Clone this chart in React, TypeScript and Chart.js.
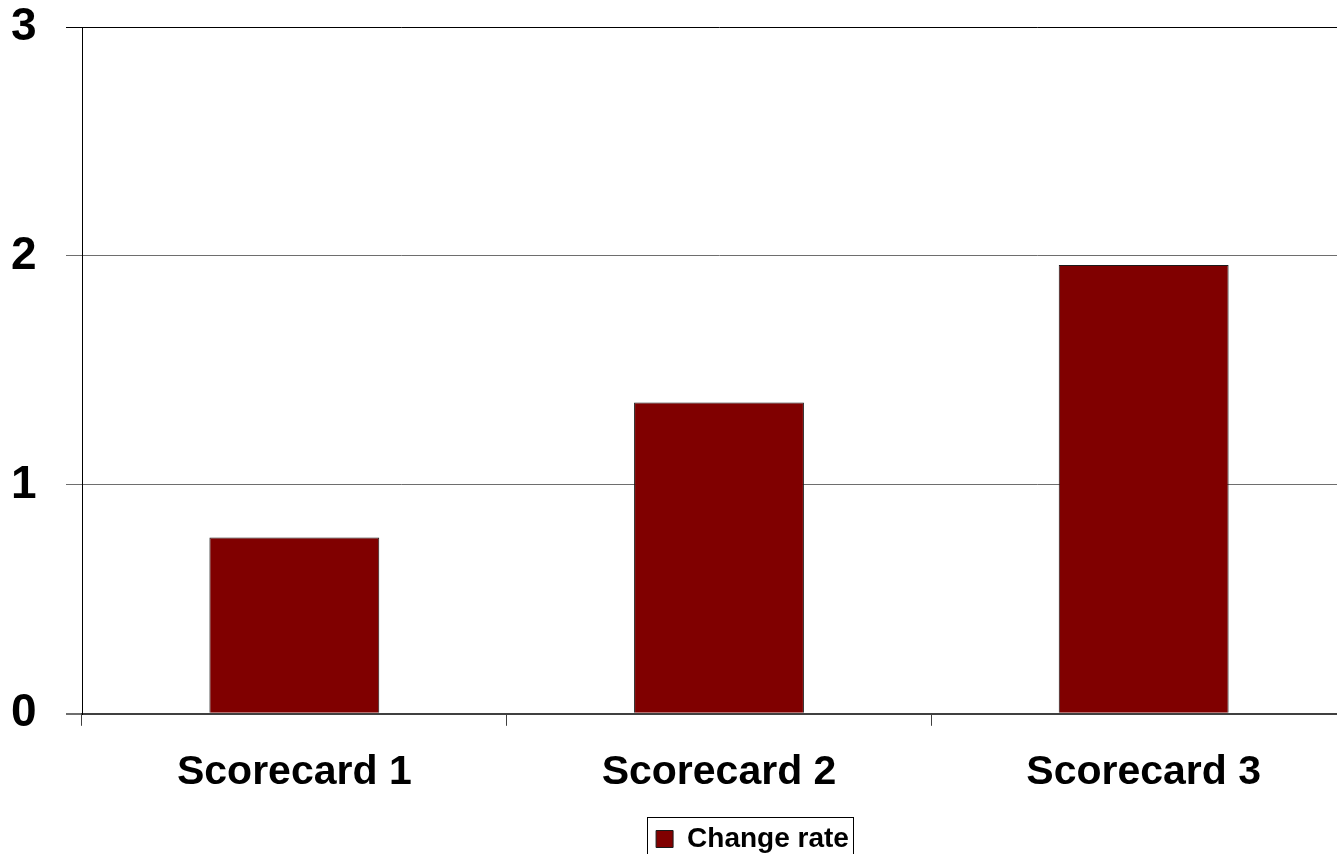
import React, { useEffect, useRef } from "react";
import { Chart, registerables } from "chart.js";

Chart.register(...registerables);

const categories = ["Scorecard 1", "Scorecard 2", "Scorecard 3"];
const changeRate = [0.77, 1.36, 1.96];
const seriesLabel = "Change rate";
const yMin = 0;
const yMax = 3;
const yStep = 1;

const FONT = "'Liberation Sans', Arial, Helvetica, sans-serif";
const LEGEND_SHIFT = 69;

const legendShift = {
  id: "legendShift",
  afterLayout(chart: any) {
    const lg = chart.legend;
    if (!lg) return;
    lg.left += LEGEND_SHIFT;
    lg.right += LEGEND_SHIFT;
  },
  afterDraw(chart: any) {
    const lg = chart.legend;
    if (!lg || !lg.legendHitBoxes || !lg.legendHitBoxes.length) return;
    const hb = lg.legendHitBoxes[0];
    const ctx = chart.ctx;
    const cy = hb.top + hb.height / 2;
    const left = Math.round(hb.left - 9) + 0.5;
    const top = Math.round(cy - 22) + 0.5;
    const right = Math.round(hb.left + hb.width + 4) + 0.5;
    ctx.save();
    ctx.strokeStyle = "#000";
    ctx.lineWidth = 1;
    ctx.strokeRect(left, top, right - left, 80);
    ctx.restore();
  },
};

export default function App() {
  const ref = useRef<HTMLCanvasElement>(null);

  useEffect(() => {
    if (!ref.current) return;
    const chart = new Chart(ref.current, {
      type: "bar",
      data: {
        labels: categories,
        datasets: [
          {
            label: seriesLabel,
            data: changeRate,
            backgroundColor: "#800000",
            borderColor: "#1a1a1a",
            borderWidth: 1,
            categoryPercentage: 1,
            barPercentage: 0.4,
          },
        ],
      },
      options: {
        animation: false,
        responsive: true,
        maintainAspectRatio: false,
        layout: { padding: { top: 0, left: 11, right: 0, bottom: 0 } },
        plugins: {
          tooltip: { enabled: false },
          legend: {
            position: "bottom",
            labels: {
              color: "#000",
              font: { family: FONT, size: 28, weight: "bold" },
              boxWidth: 17,
              boxHeight: 17,
              padding: 6,
              generateLabels: () => [
                {
                  text: seriesLabel,
                  fillStyle: "#800000",
                  strokeStyle: "#1a1a1a",
                  lineWidth: 1,
                  hidden: false,
                  datasetIndex: 0,
                },
              ],
            },
          },
        },
        scales: {
          x: {
            offset: true,
            grid: {
              offset: true,
              drawOnChartArea: false,
              drawTicks: true,
              tickLength: 12,
              color: "#404040",
              lineWidth: 1,
            },
            border: { display: true, color: "#404040", width: 2 },
            ticks: {
              color: "#000",
              font: { family: FONT, size: 41, weight: "bold" },
              padding: 22,
            },
          },
          y: {
            min: yMin,
            max: yMax,
            afterFit: (s: any) => {
              s.width = 71;
            },
            ticks: {
              stepSize: yStep,
              color: "#000",
              font: { family: FONT, size: 46, weight: "bold", lineHeight: 1.174 },
              padding: 0,
              crossAlign: "far",
            },
            grid: {
              drawTicks: true,
              tickLength: 16,
              color: (ctx: any) => (ctx.tick && ctx.tick.value === 3 ? "#000" : "#6e6e6e"),
              lineWidth: (ctx: any) => (ctx.tick && ctx.tick.value === 0 ? 2 : 1),
            },
            border: { display: true, color: "#000", width: 1 },
          },
        },
      },
      plugins: [legendShift],
    });
    return () => chart.destroy();
  }, []);

  return (
    <div
      style={{
        position: "fixed",
        left: 0,
        top: 0,
        width: 1337,
        height: 854,
        overflow: "hidden",
        background: "#fff",
      }}
    >
      <div style={{ width: 1356, height: 863, position: "relative" }}>
        <canvas ref={ref} />
      </div>
    </div>
  );
}
